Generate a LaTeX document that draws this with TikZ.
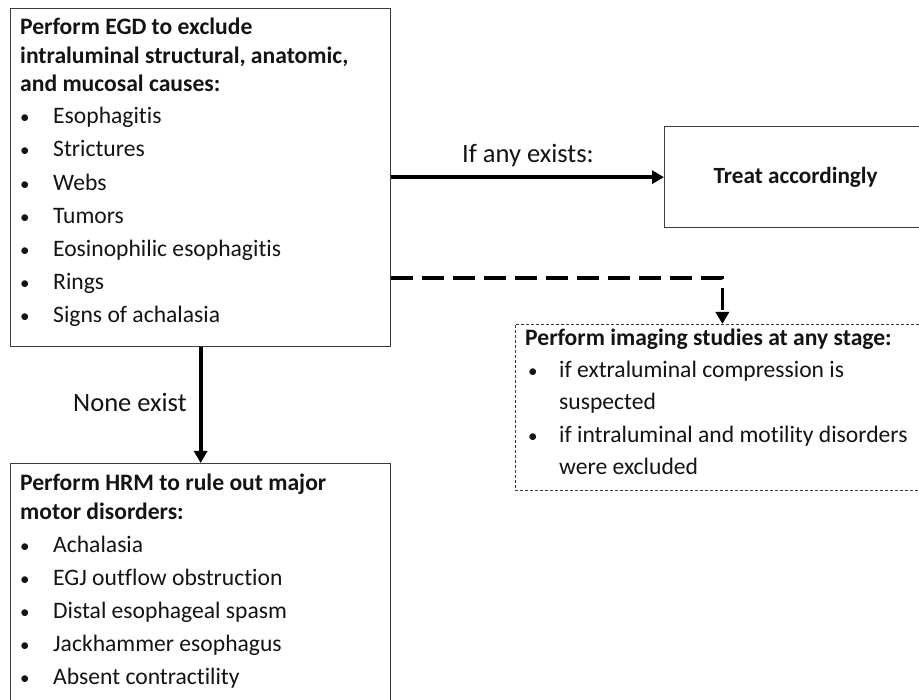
\documentclass[tikz,border=0pt]{standalone}
\usepackage{fontspec}
\setmainfont{Carlito}[Ligatures=NoCommon]
\usetikzlibrary{arrows.meta}
\definecolor{boxline}{RGB}{60,60,60}
\definecolor{ink}{RGB}{20,20,20}
\tikzset{
  boxnode/.style={draw=boxline, line width=1.3pt, rectangle, inner sep=0pt},
  dbox/.style={draw=boxline, line width=0.8pt, dash pattern=on 3pt off 2pt, rectangle, inner sep=0pt},
  txt/.style={anchor=base west, inner sep=0pt, text=ink, font=\fontsize{23.6}{28}\selectfont},
  btxt/.style={txt, font=\fontsize{23.6}{28}\selectfont\bfseries},
  bul/.style={anchor=base west, inner sep=0pt, text=ink, font=\fontsize{19}{24}\selectfont},
  lbl/.style={anchor=base west, inner sep=0pt, text=ink, font=\fontsize{26.5}{30}\selectfont},
  arr/.style={line width=3.8pt, -{Triangle[length=12pt,width=13pt]}},
  darr/.style={line width=3.8pt, dash pattern=on 22pt off 9pt, -{Triangle[length=12pt,width=13pt]}}
}
\begin{document}
\begin{tikzpicture}[x=1pt,y=-1pt]
\clip (0,0) rectangle (919,700);
\fill[white] (0,0) rectangle (919,700);
% boxes
\node[boxnode, anchor=north west, minimum width=380pt, minimum height=338pt] (egd) at (10,8) {};
\node[boxnode, anchor=north west, minimum width=380pt, minimum height=260pt] (hrm) at (10,463) {};
\node[boxnode, anchor=north west, minimum width=262pt, minimum height=101pt,
      font=\fontsize{23.2}{28}\selectfont\bfseries, text=ink] (treat) at (664,126) {Treat accordingly};
\node[dbox, anchor=north west, minimum width=414pt, minimum height=166pt] (img) at (515,324) {};
% EGD box text
\node[btxt] (e1) at (20,35) {Perform EGD to exclude};
\node[btxt] (e2) at (20,63.5) {intraluminal structural, anatomic,};
\node[btxt] (e3) at (20,92) {and mucosal causes:};
\foreach \n/\y/\t in {a/124/Esophagitis, b/157/Strictures, c/190.5/Webs, d/224/Tumors, e/257/Eosinophilic esophagitis, f/290/Rings, g/323/Signs of achalasia}{
  \node[bul] (eb\n) at (20,\y) {•};
  \node[txt] (ei\n) at (53,\y) {\t};
}
% HRM box text
\node[btxt] (h1) at (20,491) {Perform HRM to rule out major};
\node[btxt] (h2) at (20,519) {motor disorders:};
\foreach \n/\y/\t in {a/552/Achalasia, b/585/EGJ outflow obstruction, c/618/Distal esophageal spasm, d/651/Jackhammer esophagus, e/684/Absent contractility}{
  \node[bul] (hb\n) at (20,\y) {•};
  \node[txt] (hi\n) at (53,\y) {\t};
}
% imaging box text
\node[btxt] (i1) at (525,346) {Perform imaging studies at any stage:};
\node[bul] (ib1) at (528,378) {•};
\node[txt] (ii1) at (559,378) {if extraluminal compression is};
\node[txt] (ii1b) at (559,410) {suspected};
\node[bul] (ib2) at (528,443) {•};
\node[txt] (ii2) at (559,443) {if intraluminal and motility disorders};
\node[txt] (ii2b) at (559,475) {were excluded};
% connectors
\draw[arr] (egd.east |- treat.west) -- (treat.west);
\draw[arr] (egd.south) -- (hrm.north);
\draw[darr] ([yshift=-100pt]egd.east) -| (img.north);
% labels
\node[lbl] (lany) at (462,163) {If any exists:};
\node[lbl] (lnone) at (73,412) {None exist};
\end{tikzpicture}
\end{document}
